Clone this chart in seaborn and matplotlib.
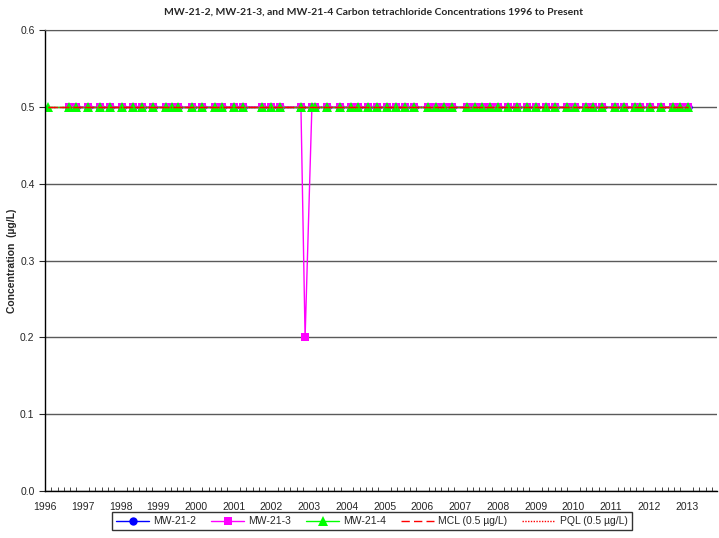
import matplotlib
matplotlib.use("Agg")
import matplotlib.pyplot as plt
import seaborn as sns
import pandas as pd
from matplotlib.ticker import MultipleLocator

sns.set_style("white")
plt.rcParams['font.family'] = ['Liberation Sans', 'DejaVu Sans']

# sampling dates (decimal years)
sample_dates = [1996.64, 1996.82, 1997.14, 1997.46, 1997.72, 1998.04, 1998.33, 1998.57,
                1998.86, 1999.20, 1999.36, 1999.52, 1999.89, 2000.16, 2000.50, 2000.69,
                2001.00, 2001.24, 2001.75, 2001.98, 2002.22, 2002.78, 2003.07, 2003.15,
                2003.47, 2003.81, 2004.10, 2004.29, 2004.55, 2004.79, 2005.06, 2005.30,
                2005.53, 2005.77, 2006.14, 2006.35, 2006.57, 2006.78, 2007.18, 2007.39,
                2007.57, 2007.78, 2008.00, 2008.26, 2008.50, 2008.76, 2009.00, 2009.27,
                2009.51, 2009.82, 2010.04, 2010.33, 2010.51, 2010.75, 2011.10, 2011.33,
                2011.62, 2011.76, 2012.02, 2012.31, 2012.63, 2012.82, 2013.03]

mw2_dates = sample_dates
mw2_conc = [0.5, 0.5, 0.5, 0.5, 0.5, 0.5, 0.5, 0.5, 0.5, 0.5, 0.5, 0.5, 0.5, 0.5, 0.5, 0.5,
            0.5, 0.5, 0.5, 0.5, 0.5, 0.5, 0.5, 0.5, 0.5, 0.5, 0.5, 0.5, 0.5, 0.5, 0.5, 0.5,
            0.5, 0.5, 0.5, 0.5, 0.5, 0.5, 0.5, 0.5, 0.5, 0.5, 0.5, 0.5, 0.5, 0.5, 0.5, 0.5,
            0.5, 0.5, 0.5, 0.5, 0.5, 0.5, 0.5, 0.5, 0.5, 0.5, 0.5, 0.5, 0.5, 0.5, 0.5]

# MW-21-3 has one extra sample late in 2002 (0.2 ug/L)
mw3_dates = sample_dates[:22] + [2002.89] + sample_dates[22:]
mw3_conc = [0.5, 0.5, 0.5, 0.5, 0.5, 0.5, 0.5, 0.5, 0.5, 0.5, 0.5, 0.5, 0.5, 0.5, 0.5, 0.5,
            0.5, 0.5, 0.5, 0.5, 0.5, 0.5, 0.2, 0.5, 0.5, 0.5, 0.5, 0.5, 0.5, 0.5, 0.5, 0.5,
            0.5, 0.5, 0.5, 0.5, 0.5, 0.5, 0.5, 0.5, 0.5, 0.5, 0.5, 0.5, 0.5, 0.5, 0.5, 0.5,
            0.5, 0.5, 0.5, 0.5, 0.5, 0.5, 0.5, 0.5, 0.5, 0.5, 0.5, 0.5, 0.5, 0.5, 0.5, 0.5]

# MW-21-4 starts earlier (early 1996)
mw4_dates = [1996.08] + sample_dates
mw4_conc = [0.5, 0.5, 0.5, 0.5, 0.5, 0.5, 0.5, 0.5, 0.5, 0.5, 0.5, 0.5, 0.5, 0.5, 0.5, 0.5,
            0.5, 0.5, 0.5, 0.5, 0.5, 0.5, 0.5, 0.5, 0.5, 0.5, 0.5, 0.5, 0.5, 0.5, 0.5, 0.5,
            0.5, 0.5, 0.5, 0.5, 0.5, 0.5, 0.5, 0.5, 0.5, 0.5, 0.5, 0.5, 0.5, 0.5, 0.5, 0.5,
            0.5, 0.5, 0.5, 0.5, 0.5, 0.5, 0.5, 0.5, 0.5, 0.5, 0.5, 0.5, 0.5, 0.5, 0.5, 0.5]

limit_dates = [1996.08, 2013.03]
mcl = [0.5, 0.5]
pql = [0.5, 0.5]

year_ticks = list(range(1996, 2014))

fig = plt.figure(figsize=(7.19, 5.38), dpi=100)
ax = fig.add_axes([0.0626, 0.0874, 0.9345, 0.8566])

ax.yaxis.grid(True, color='#5a5a5a', linewidth=1.0, zorder=0)
ax.set_axisbelow(True)

sns.lineplot(x=mw2_dates, y=mw2_conc, ax=ax, color='#0000ff', marker='o', markersize=6,
             markeredgewidth=0, linewidth=1, label='MW-21-2', sort=False)
sns.lineplot(x=mw3_dates, y=mw3_conc, ax=ax, color='#ff00ff', marker='s', markersize=6,
             markeredgewidth=0, linewidth=1, label='MW-21-3', sort=False)
sns.lineplot(x=mw4_dates, y=mw4_conc, ax=ax, color='#00ff00', marker='^', markersize=7,
             markeredgewidth=0, linewidth=1, label='MW-21-4', sort=False)
sns.lineplot(x=limit_dates, y=mcl, ax=ax, color='#ff0000', linestyle=(0, (6, 3)),
             linewidth=1, label='MCL (0.5 µg/L)', sort=False)
sns.lineplot(x=limit_dates, y=pql, ax=ax, color='#ff0000', linestyle=(0, (1, 1)),
             linewidth=1, label='PQL (0.5 µg/L)', sort=False)

ax.set_xlim(1996, 2013.8)
ax.set_ylim(0, 0.6)
ax.set_xticks(year_ticks)
ax.set_xticklabels([str(y) for y in year_ticks])
ax.xaxis.set_minor_locator(MultipleLocator(1 / 6))
ax.yaxis.set_major_locator(MultipleLocator(0.1))
ax.tick_params(axis='x', which='major', direction='inout', length=6, labelsize=7.5, pad=5)
ax.tick_params(axis='x', which='minor', direction='in', length=3, bottom=True)
ax.tick_params(axis='y', which='major', direction='out', length=4, labelsize=7.5, left=True)

for side in ['left', 'bottom']:
    ax.spines[side].set_color('black')
    ax.spines[side].set_linewidth(1)
ax.spines['right'].set_visible(False)
ax.spines['top'].set_color('#5a5a5a')

ax.set_ylabel('Concentration  (µg/L)', fontsize=7.5, fontweight='bold', labelpad=2)
fig.text(0.52, 0.978, 'MW-21-2, MW-21-3, and MW-21-4 Carbon tetrachloride Concentrations 1996 to Present',
         ha='center', va='center', fontsize=7.5, fontweight='bold', family=['Lato', 'DejaVu Sans'])

leg = ax.legend(loc='center', bbox_to_anchor=(0.517, 0.031), bbox_transform=fig.transFigure,
                ncol=5, fontsize=7.5, frameon=True, fancybox=False, edgecolor='black',
                handlelength=3.2, columnspacing=1.4, borderpad=0.4, handletextpad=0.4)
leg.get_frame().set_linewidth(1)

fig.savefig('out.png', dpi=100)
